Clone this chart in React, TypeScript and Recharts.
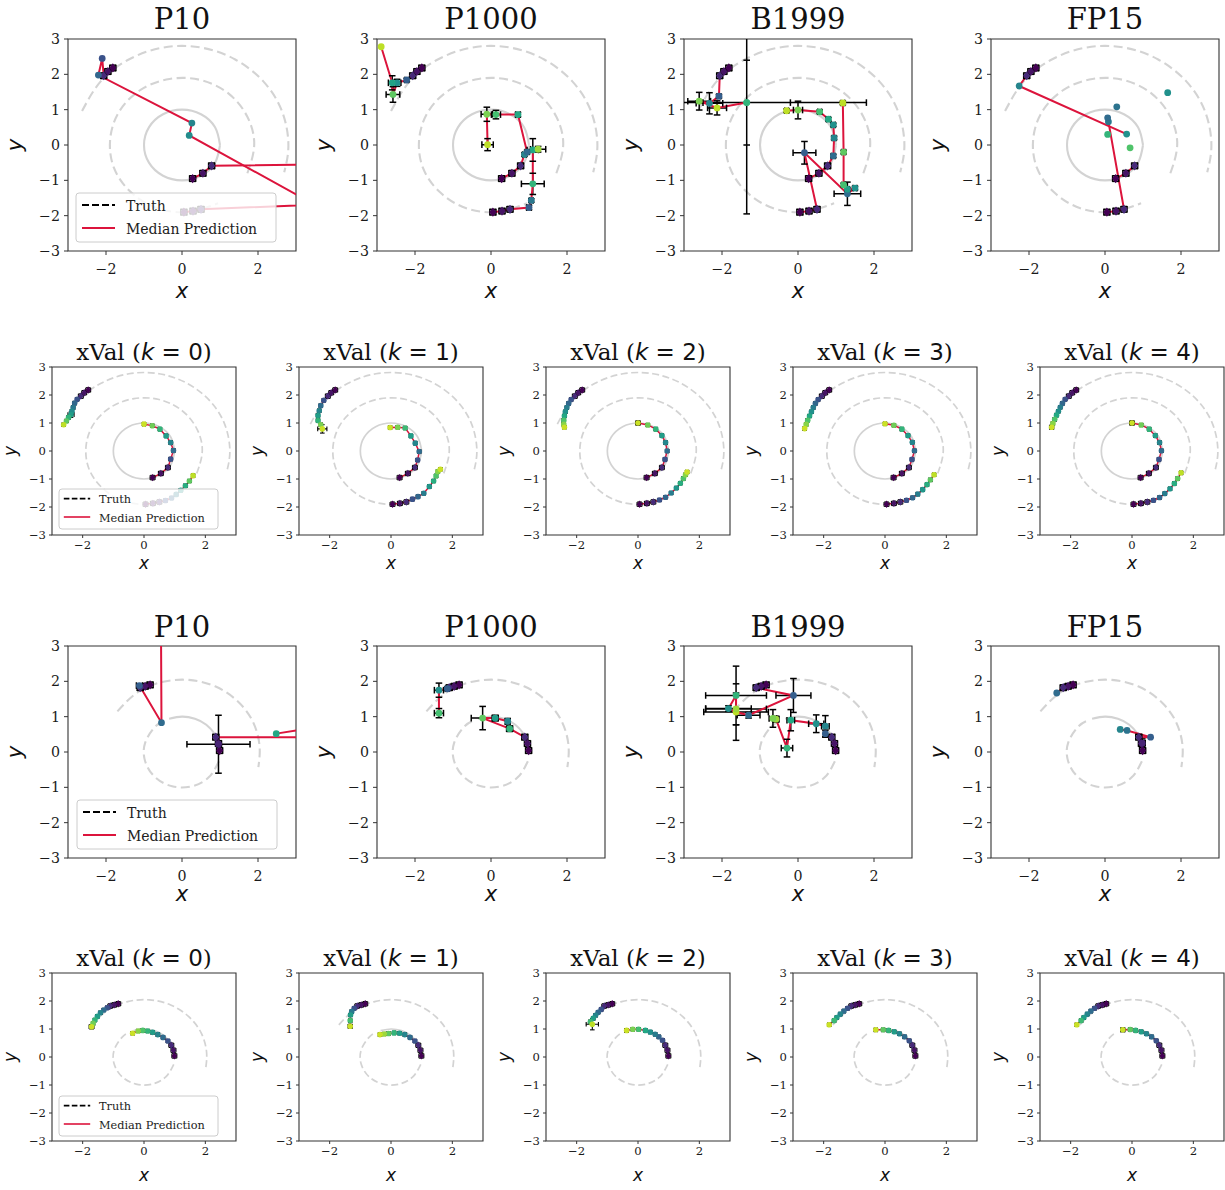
import React from "react";
import { ComposedChart, Line, ReferenceArea, Scatter, XAxis, YAxis } from "recharts";

// rows are [x, y, t (time, drives the colour), ex, ey]
type Row = number[];

const methodTitles = ["P10", "P1000", "B1999", "FP15"];
const foldTitles = [0, 1, 2, 3, 4];
const axisTicks = [-3, -2, -1, 0, 1, 2, 3];
const xTickLabels = [-2, 0, 2];

// ---------- dataset A (rows 1 and 2): truth curves
const truthA_inner = [[1, 0], [0.87, 0.5], [0.5, 0.87], [0, 1], [-0.5, 0.87], [-0.87, 0.5], [-1, 0], [-0.87, -0.5], [-0.5, -0.87], [0, -1], [0.5, -0.87], [0.87, -0.5], [1, 0]];
const truthA_middle = [[1.72, -0.8], [1.9, 0], [1.72, 0.8], [1.22, 1.46], [0.49, 1.84], [-0.33, 1.87], [-1.09, 1.56], [-1.65, 0.95], [-1.89, 0.17], [-1.79, -0.65], [-1.34, -1.34], [-0.65, -1.79], [0.17, -1.89], [0.95, -1.65]];
const truthA_outer = [[-2.63, 0.96], [-2.14, 1.8], [-1.4, 2.42], [-0.49, 2.76], [0.49, 2.76], [1.4, 2.42], [2.14, 1.8], [2.63, 0.96], [2.8, 0], [2.69, -0.77]];

// ---------- dataset B (rows 3 and 4): truth curves
const truthB_outer = [[-1.7, 1.15], [-1.18, 1.68], [-0.53, 1.98], [0.18, 2.04], [0.87, 1.86], [1.45, 1.45], [1.86, 0.87], [2.04, 0.18], [2.01, -0.43]];
const truthB_innerDash = [[0.97, -0.26], [0.71, -0.71], [0.26, -0.97], [-0.26, -0.97], [-0.71, -0.71], [-0.97, -0.26], [-0.97, 0.26], [-0.71, 0.71], [-0.5, 0.87]];
const truthB_innerSolid = [[-0.34, 0.94], [0, 1], [0.34, 0.94], [0.64, 0.77], [0.87, 0.5], [0.94, 0.34]];

// ---------- observed points (same in every panel of a dataset)
const obsA_outer = [[-1.82, 2.18, 0], [-1.95, 2.08, 0.05], [-2.06, 1.96, 0.12]];
const obsA_middle = [[0.05, -1.9, 0], [0.29, -1.87, 0.05], [0.5, -1.82, 0.12]];
const obsA_inner = [[0.28, -0.95, 0], [0.55, -0.8, 0.05], [0.78, -0.59, 0.12]];
const obsB_outer = [[-0.84, 1.9, 0], [-0.97, 1.86, 0.05], [-1.1, 1.82, 0.12]];
const obsB_inner = [[0.99, 0.04, 0], [0.96, 0.24, 0.05], [0.89, 0.42, 0.12]];

// ---------- row 1 predictions
const p10A_outer = [[-2.1, 2.45, 0.25], [-2.2, 1.98, 0.33], [0.26, 0.62, 0.45], [0.19, 0.27, 0.48], [6, -3.18, 0.6]];
const p10A_middle = [[8, -1.49, 0.3]];
const p10A_inner = [[8, -0.5, 0.3]];

const p1000A_outer = [[-2.22, 1.84, 0.3, 0.05, 0.05], [-2.47, 1.76, 0.5, 0.1, 0.1], [-2.58, 1.43, 0.75, 0.18, 0.22], [-2.6, 1.76, 0.58, 0.1, 0.2], [-2.89, 2.78, 0.9]];
const p1000A_middle = [[1.0, -1.77, 0.3, 0.06, 0.06], [1.06, -1.57, 0.4, 0.05, 0.05], [1.1, -1.1, 0.65, 0.3, 0.3], [1.1, -0.14, 0.6, 0.15, 0.32], [1.24, -0.12, 0.85, 0.2, 0.08]];
const p1000A_inner = [[0.88, -0.27, 0.45, 0.05, 0.05], [0.95, -0.2, 0.35, 0.05, 0.05], [0.71, 0.86, 0.6, 0.06, 0.06], [0.13, 0.86, 0.7, 0.12, 0.12], [-0.11, 0.87, 0.8, 0.15, 0.2], [-0.09, 0.01, 0.9, 0.15, 0.17]];

const b1999A_outer = [[-2.08, 1.38, 0.3, 0.05, 0.05], [-2.33, 1.18, 0.45, 0.35, 0.3], [-2.6, 1.24, 0.8, 0.3, 0.25], [-2.13, 1.05, 0.9, 0.25, 0.2], [-1.35, 1.2, 0.65, 3.15, 3.15]];
const b1999A_middle = [[0.17, -0.22, 0.3, 0.3, 0.32], [1.3, -1.38, 0.35, 0.35, 0.33], [1.5, -1.22, 0.5, 0.05, 0.05], [1.3, -1.25, 0.55, 0.05, 0.05], [1.2, -1.13, 0.7, 0.05, 0.05], [1.2, -0.2, 0.75, 0.05, 0.05], [1.18, 1.19, 0.9, 0.05, 0.05]];
const b1999A_inner = [[0.93, -0.31, 0.35, 0.05, 0.05], [0.95, 0.2, 0.45, 0.05, 0.05], [0.93, 0.57, 0.5, 0.05, 0.05], [0.8, 0.73, 0.6, 0.05, 0.05], [0.57, 0.94, 0.7, 0.05, 0.05], [0.0, 0.99, 0.8, 0.12, 0.25], [-0.3, 0.97, 0.9, 0.05, 0.05]];
const b1999A_loose = [[-1.35, 1.2, 0.65, 1.15, 1.2]];

const fp15A_outer = [[-2.26, 1.67, 0.45], [0.57, 0.31, 0.5]];
const fp15A_middle = [[0.09, 0.66, 0.4], [0.07, 0.77, 0.35]];
const fp15A_loose = [[0.31, 1.08, 0.38], [0.07, 0.3, 0.65], [0.66, -0.08, 0.72], [1.65, 1.48, 0.5]];

// ---------- row 2 predictions (cross validation folds)
const xvA0_outer = [[-2.18, 1.85, 0.25], [-2.26, 1.71, 0.33], [-2.31, 1.55, 0.4], [-2.35, 1.42, 0.48], [-2.38, 1.3, 0.55, 0.1, 0.1], [-2.46, 1.2, 0.65], [-2.53, 1.07, 0.75], [-2.62, 0.94, 0.9]];
const xvA0_middle = [[0.7, -1.77, 0.25], [0.9, -1.68, 0.33], [1.05, -1.55, 0.42], [1.2, -1.4, 0.52], [1.35, -1.24, 0.62], [1.48, -1.07, 0.75], [1.6, -0.88, 0.9]];
const xvA0_inner = [[0.87, -0.29, 0.25], [0.96, 0.02, 0.35], [0.87, 0.3, 0.45], [0.72, 0.54, 0.55], [0.52, 0.78, 0.65], [0.27, 0.9, 0.78], [0, 0.96, 0.92]];

const xvA1_outer = [[-2.19, 1.81, 0.25], [-2.29, 1.62, 0.35], [-2.34, 1.44, 0.45], [-2.38, 1.27, 0.55], [-2.38, 1.09, 0.65], [-2.29, 0.94, 0.8], [-2.24, 0.79, 0.92, 0.15, 0.15]];
const xvA1_middle = [[0.7, -1.72, 0.25], [0.88, -1.63, 0.33], [1.07, -1.51, 0.42], [1.25, -1.27, 0.52], [1.39, -1.07, 0.62], [1.47, -0.89, 0.72], [1.53, -0.73, 0.82], [1.61, -0.65, 0.92]];
const xvA1_inner = [[0.87, -0.32, 0.25], [0.92, -0.02, 0.35], [0.79, 0.28, 0.45], [0.65, 0.54, 0.55], [0.46, 0.82, 0.68], [0.22, 0.85, 0.8], [-0.03, 0.84, 0.92]];

const xvA2_outer = [[-2.18, 1.84, 0.25], [-2.26, 1.7, 0.33], [-2.32, 1.55, 0.42], [-2.37, 1.4, 0.5], [-2.4, 1.25, 0.6], [-2.42, 1.1, 0.72], [-2.42, 0.95, 0.82], [-2.4, 0.85, 0.92]];
const xvA2_middle = [[0.7, -1.75, 0.25], [0.9, -1.65, 0.33], [1.08, -1.5, 0.42], [1.25, -1.32, 0.52], [1.38, -1.15, 0.62], [1.48, -0.98, 0.72], [1.55, -0.85, 0.82], [1.6, -0.75, 0.92]];
const xvA2_inner = [[0.88, -0.3, 0.25], [0.95, 0.0, 0.35], [0.9, 0.3, 0.45], [0.78, 0.55, 0.55], [0.58, 0.78, 0.65], [0.32, 0.93, 0.78], [0.0, 1.0, 0.92, 0.08, 0.08]];

const xvA3_outer = [[-2.18, 1.84, 0.25], [-2.27, 1.7, 0.33], [-2.34, 1.55, 0.42], [-2.4, 1.4, 0.5], [-2.46, 1.25, 0.6], [-2.52, 1.1, 0.72], [-2.57, 0.95, 0.82], [-2.62, 0.8, 0.92]];
const xvA3_middle = [[0.7, -1.76, 0.25], [0.9, -1.67, 0.33], [1.07, -1.54, 0.42], [1.23, -1.38, 0.52], [1.37, -1.2, 0.62], [1.48, -1.03, 0.75], [1.6, -0.85, 0.9]];
const xvA3_inner = [[0.88, -0.3, 0.25], [0.96, 0.01, 0.35], [0.89, 0.31, 0.45], [0.75, 0.55, 0.55], [0.55, 0.78, 0.65], [0.29, 0.92, 0.78], [0, 0.97, 0.92]];

const xvA4_outer = [[-2.18, 1.85, 0.25], [-2.27, 1.7, 0.33], [-2.34, 1.56, 0.42], [-2.4, 1.42, 0.5], [-2.46, 1.28, 0.6], [-2.52, 1.13, 0.72], [-2.58, 0.98, 0.82], [-2.62, 0.85, 0.92, 0.07, 0.07]];
const xvA4_middle = [[0.7, -1.76, 0.25], [0.9, -1.66, 0.33], [1.07, -1.52, 0.42], [1.24, -1.35, 0.52], [1.38, -1.16, 0.62], [1.49, -0.98, 0.75], [1.6, -0.78, 0.9]];
const xvA4_inner = [[0.88, -0.3, 0.25], [0.96, 0.01, 0.35], [0.9, 0.3, 0.45], [0.76, 0.55, 0.55], [0.56, 0.78, 0.65], [0.3, 0.93, 0.78], [0, 1.0, 0.92, 0.08, 0.08]];

// ---------- row 3 predictions
const p10B_outer = [[-1.12, 1.88, 0.3, 0.08, 0.05], [-0.54, 0.83, 0.35], [-0.56, 5, 0.5]];
const p10B_inner = [[9, 0.42, 0.3]];
const p10B_inner2 = [[2.48, 0.52, 0.6], [6, 1.1, 0.7]];
const p10B_loose = [[0.96, 0.22, 0.1, 0.83, 0.82]];

const p1000B_outer = [[-1.15, 1.79, 0.3, 0.05, 0.05], [-1.37, 1.75, 0.5, 0.12, 0.2], [-1.37, 1.1, 0.7, 0.12, 0.13]];
const p1000B_inner = [[0.49, 0.66, 0.65, 0.08, 0.08], [-0.22, 0.96, 0.75, 0.3, 0.33], [0.11, 0.96, 0.55, 0.08, 0.08], [0.44, 0.87, 0.45, 0.06, 0.08]];

const b1999B_outer = [[-0.12, 1.6, 0.3, 0.46, 0.48], [-1.3, 1.04, 0.35, 0.3, 0.08], [-1.63, 1.13, 0.9, 0.85, 0.8], [-1.83, 1.23, 0.5, 0.6, 0.08], [-1.63, 1.6, 0.65, 0.8, 0.83], [-1.63, 1.22, 0.85, 0.8, 0.45]];
const b1999B_inner = [[0.72, 0.52, 0.3, 0.05, 0.1], [0.72, 0.73, 0.45, 0.1, 0.3], [0.48, 0.8, 0.5, 0.2, 0.25], [-0.19, 0.9, 0.6, 0.1, 0.3], [-0.29, 0.11, 0.65, 0.15, 0.25], [-0.58, 0.93, 0.85, 0.08, 0.08], [-0.66, 0.95, 0.8, 0.1, 0.25]];

const fp15B_outer = [[-1.27, 1.67, 0.35]];
const fp15B_inner = [[1.2, 0.42, 0.3], [0.58, 0.61, 0.38], [0.4, 0.64, 0.45]];
const fp15B_loose = [[0.98, 0.25, 0.1, 0.08, 0.12]];

// ---------- row 4 predictions
const xvB0_outer = [[-1.2, 1.76, 0.25], [-1.31, 1.68, 0.35], [-1.42, 1.58, 0.45], [-1.52, 1.45, 0.55], [-1.6, 1.32, 0.65], [-1.66, 1.2, 0.78], [-1.71, 1.08, 0.92, 0.08, 0.08]];
const xvB0_inner = [[0.78, 0.57, 0.25], [0.62, 0.7, 0.35], [0.45, 0.8, 0.45], [0.28, 0.88, 0.55], [0.12, 0.93, 0.65], [-0.04, 0.95, 0.72], [-0.19, 0.93, 0.82], [-0.37, 0.85, 0.92]];

const xvB1_outer = [[-1.2, 1.74, 0.25], [-1.28, 1.62, 0.4], [-1.32, 1.5, 0.55], [-1.33, 1.3, 0.7], [-1.33, 1.1, 0.92, 0.07, 0.07]];
const xvB1_inner = [[0.78, 0.57, 0.25], [0.62, 0.7, 0.35], [0.45, 0.8, 0.45], [0.28, 0.85, 0.55], [0.1, 0.86, 0.65], [-0.08, 0.84, 0.75], [-0.22, 0.82, 0.85], [-0.36, 0.8, 0.92]];

const xvB2_outer = [[-1.2, 1.7, 0.25], [-1.3, 1.6, 0.35], [-1.38, 1.49, 0.45], [-1.46, 1.38, 0.55], [-1.55, 1.26, 0.68], [-1.49, 1.17, 0.9, 0.2, 0.2]];
const xvB2_inner = [[0.8, 0.6, 0.25], [0.68, 0.72, 0.33], [0.56, 0.81, 0.42], [0.4, 0.89, 0.5], [0.24, 0.95, 0.6], [0.02, 0.99, 0.7], [-0.17, 0.99, 0.8], [-0.37, 0.95, 0.92, 0.06, 0.06]];

const xvB3_outer = [[-1.22, 1.74, 0.25], [-1.34, 1.64, 0.35], [-1.46, 1.53, 0.45], [-1.57, 1.41, 0.55], [-1.66, 1.3, 0.68], [-1.82, 1.15, 0.92]];
const xvB3_inner = [[0.79, 0.58, 0.25], [0.64, 0.72, 0.35], [0.47, 0.83, 0.45], [0.3, 0.9, 0.55], [0.12, 0.95, 0.65], [-0.06, 0.97, 0.75], [-0.3, 0.97, 0.92]];

const xvB4_outer = [[-1.22, 1.74, 0.25], [-1.34, 1.64, 0.35], [-1.46, 1.53, 0.45], [-1.57, 1.41, 0.55], [-1.66, 1.3, 0.68], [-1.8, 1.15, 0.92]];
const xvB4_inner = [[0.79, 0.58, 0.25], [0.64, 0.72, 0.35], [0.47, 0.83, 0.45], [0.3, 0.9, 0.55], [0.12, 0.95, 0.65], [-0.06, 0.98, 0.75], [-0.3, 0.97, 0.92, 0.07, 0.07]];

// ---------- styling helpers
const viridis = ["#440154", "#482475", "#414487", "#355f8d", "#2a788e", "#21918c", "#22a884", "#44bf70", "#7ad151", "#bddf26", "#fde725"];

function colourAt(t: number) {
  const v = Math.max(0, Math.min(1, t)) * 10;
  const i = Math.min(9, Math.floor(v));
  const f = v - i;
  const a = viridis[i];
  const b = viridis[i + 1];
  const ch = (s: string, k: number) => parseInt(s.slice(1 + 2 * k, 3 + 2 * k), 16);
  const mix = (k: number) => Math.round(ch(a, k) + (ch(b, k) - ch(a, k)) * f);
  return `rgb(${mix(0)},${mix(1)},${mix(2)})`;
}

type Pt = { x: number; y: number; t: number; ex: number; ey: number; obs: boolean };

const toPts = (rows: Row[], obs: boolean, err: number): Pt[] =>
  rows.map((r) => ({ x: r[0], y: r[1], t: r[2], ex: r[3] ?? err, ey: r[4] ?? err, obs }));

const xy = (rows: number[][]) => rows.map((r) => ({ x: r[0], y: r[1] }));
const inside = (d: { x: number; y: number }) => d.x >= -3 && d.x <= 3 && d.y >= -3 && d.y <= 3;

type Truth = { dashed: number[][][]; solid: number[][][] };
const truthA: Truth = { dashed: [truthA_middle, truthA_outer], solid: [truthA_inner] };
const truthB: Truth = { dashed: [truthB_outer, truthB_innerDash], solid: [truthB_innerSolid] };

type PanelSpec = {
  left: number;
  top: number;
  small: boolean;
  truth: Truth;
  tracks: Pt[][];
  loose: Pt[];
};

const fmt = (v: number) => (v < 0 ? `\u2212${-v}` : `${v}`);

const makeTick = (fs: number, horizontal: boolean) => (props: any) => {
  const { x, y, payload, textAnchor } = props;
  return (
    <text x={x} y={y} dy={horizontal ? "0.71em" : "0.36em"} textAnchor={textAnchor} fontFamily="DejaVu Serif" fontSize={fs} fill="#1a1a1a">
      {fmt(payload.value)}
    </text>
  );
};

function Panel({ spec }: { spec: PanelSpec }) {
  const s = spec.small;
  const w = s ? 184 : 228;
  const h = s ? 168 : 212;
  const yw = s ? 34 : 44;
  const xh = s ? 24 : 32;
  const pad = 12;
  const fs = s ? 11.6 : 14.2;
  const all = [...spec.tracks.flat(), ...spec.loose];
  const ebw = s ? 1.1 : 1.5;
  const cap = s ? 2.3 : 3.3;

  // error bars as broken polylines so that they are clipped at the frame
  const errSegs: { x: number; y: number | null }[] = [];
  const xCaps: { x: number; y: number }[] = [];
  const yCaps: { x: number; y: number }[] = [];
  all.forEach((d) => {
    if (d.ex > 0) {
      errSegs.push({ x: d.x - d.ex, y: d.y }, { x: d.x + d.ex, y: d.y }, { x: d.x + d.ex, y: null });
      xCaps.push({ x: d.x - d.ex, y: d.y }, { x: d.x + d.ex, y: d.y });
    }
    if (d.ey > 0) {
      errSegs.push({ x: d.x, y: d.y - d.ey }, { x: d.x, y: d.y + d.ey }, { x: d.x, y: null });
      yCaps.push({ x: d.x, y: d.y - d.ey }, { x: d.x, y: d.y + d.ey });
    }
  });

  const vCap = (props: any) => <line x1={props.cx} x2={props.cx} y1={props.cy - cap} y2={props.cy + cap} stroke="#000" strokeWidth={ebw} />;
  const hCap = (props: any) => <line x1={props.cx - cap} x2={props.cx + cap} y1={props.cy} y2={props.cy} stroke="#000" strokeWidth={ebw} />;

  const marker = (props: any) => {
    const { cx, cy, payload } = props;
    if (cx == null || cy == null) return <g />;
    const c = colourAt(payload.t);
    if (payload.obs) {
      const a = s ? 2.9 : 3.6;
      const b = s ? 3.7 : 4.6;
      return <polygon points={`${cx},${cy - b} ${cx + a},${cy} ${cx},${cy + b} ${cx - a},${cy}`} fill={c} />;
    }
    return <circle cx={cx} cy={cy} r={s ? 2.8 : 3.4} fill={c} />;
  };

  return (
    <div style={{ position: "absolute", left: spec.left - yw, top: spec.top - pad }}>
      <ComposedChart width={yw + w + pad} height={pad + h + xh} margin={{ top: pad, right: pad, bottom: 0, left: 0 }}>
        <XAxis
          type="number"
          dataKey="x"
          domain={[-3, 3]}
          ticks={xTickLabels}
          interval={0}
          allowDataOverflow
          axisLine={false}
          tickLine={{ stroke: "#333" }}
          tickSize={s ? 3 : 4}
          tickMargin={s ? 3 : 9}
          height={xh}
          tick={makeTick(fs, true)}
        />
        <YAxis
          type="number"
          dataKey="y"
          domain={[-3, 3]}
          ticks={axisTicks}
          interval={0}
          allowDataOverflow
          axisLine={false}
          tickLine={{ stroke: "#333" }}
          tickSize={s ? 3 : 4}
          tickMargin={s ? 3 : 4}
          width={yw}
          tick={makeTick(fs, false)}
        />
        {spec.truth.solid.map((c, i) => (
          <Line key={`s${i}`} data={xy(c)} dataKey="y" type="natural" stroke="#d3d3d3" strokeWidth={s ? 1.7 : 2.1} dot={false} isAnimationActive={false} />
        ))}
        {spec.truth.dashed.map((c, i) => (
          <Line key={`d${i}`} data={xy(c)} dataKey="y" type="natural" stroke="#d3d3d3" strokeWidth={s ? 1.7 : 2.1} strokeDasharray={s ? "7 3.5" : "9 4.5"} dot={false} isAnimationActive={false} />
        ))}
        <Line data={errSegs} dataKey="y" type="linear" stroke="#000" strokeWidth={ebw} dot={false} connectNulls={false} isAnimationActive={false} />
        <Scatter data={xCaps.filter(inside)} shape={vCap} isAnimationActive={false} />
        <Scatter data={yCaps.filter(inside)} shape={hCap} isAnimationActive={false} />
        {spec.tracks.map((tr, i) => (
          <Line key={`t${i}`} data={tr} dataKey="y" type="linear" stroke="crimson" strokeWidth={s ? 1.5 : 2} dot={false} isAnimationActive={false} />
        ))}
        <Scatter data={all.filter(inside)} shape={marker} isAnimationActive={false} />
        <ReferenceArea x1={-3} x2={3} y1={-3} y2={3} fill="none" stroke="#333" strokeWidth={1.1} fillOpacity={0} />
      </ComposedChart>
    </div>
  );
}

// ---------- layout
const bigLefts = [68, 377, 684, 991];
const smallLefts = [52, 299, 546, 793, 1040];
const rowTops = [39, 367, 646, 973];
const titleBase = [29, 360, 637, 966];
const xLabelBase = [298, 569, 901, 1181];

const A = (rows: Row[]) => toPts(rows, false, 0);
const Ae = (rows: Row[]) => toPts(rows, false, 0.05);
const O = (rows: Row[]) => toPts(rows, true, 0.08);

const row1: PanelSpec[] = [
  { tracks: [[...O(obsA_outer), ...A(p10A_outer)], [...O(obsA_middle), ...A(p10A_middle)], [...O(obsA_inner), ...A(p10A_inner)]], loose: [] },
  { tracks: [[...O(obsA_outer), ...A(p1000A_outer)], [...O(obsA_middle), ...A(p1000A_middle)], [...O(obsA_inner), ...A(p1000A_inner)]], loose: [] },
  { tracks: [[...O(obsA_outer), ...A(b1999A_outer)], [...O(obsA_middle), ...A(b1999A_middle)], [...O(obsA_inner), ...A(b1999A_inner)]], loose: A(b1999A_loose) },
  { tracks: [[...O(obsA_outer), ...A(fp15A_outer)], [...O(obsA_middle), ...A(fp15A_middle)], [...O(obsA_inner)]], loose: A(fp15A_loose) },
].map((p, i) => ({ ...p, left: bigLefts[i], top: rowTops[0], small: false, truth: truthA }));

const foldsA = [
  [xvA0_outer, xvA0_middle, xvA0_inner],
  [xvA1_outer, xvA1_middle, xvA1_inner],
  [xvA2_outer, xvA2_middle, xvA2_inner],
  [xvA3_outer, xvA3_middle, xvA3_inner],
  [xvA4_outer, xvA4_middle, xvA4_inner],
];
const row2: PanelSpec[] = foldsA.map((f, i) => ({
  left: smallLefts[i],
  top: rowTops[1],
  small: true,
  truth: truthA,
  tracks: [[...O(obsA_outer), ...Ae(f[0])], [...O(obsA_middle), ...Ae(f[1])], [...O(obsA_inner), ...Ae(f[2])]],
  loose: [],
}));

const row3: PanelSpec[] = [
  { tracks: [[...O(obsB_outer), ...A(p10B_outer)], [...O(obsB_inner), ...A(p10B_inner)], A(p10B_inner2)], loose: A(p10B_loose) },
  { tracks: [[...O(obsB_outer), ...A(p1000B_outer)], [...O(obsB_inner), ...A(p1000B_inner)]], loose: [] },
  { tracks: [[...O(obsB_outer), ...A(b1999B_outer)], [...O(obsB_inner), ...A(b1999B_inner)]], loose: [] },
  { tracks: [[...O(obsB_outer), ...A(fp15B_outer)], [...O(obsB_inner), ...A(fp15B_inner)]], loose: A(fp15B_loose) },
].map((p, i) => ({ ...p, left: bigLefts[i], top: rowTops[2], small: false, truth: truthB }));

const foldsB = [
  [xvB0_outer, xvB0_inner],
  [xvB1_outer, xvB1_inner],
  [xvB2_outer, xvB2_inner],
  [xvB3_outer, xvB3_inner],
  [xvB4_outer, xvB4_inner],
];
const row4: PanelSpec[] = foldsB.map((f, i) => ({
  left: smallLefts[i],
  top: rowTops[3],
  small: true,
  truth: truthB,
  tracks: [[...O(obsB_outer), ...Ae(f[0])], [...O(obsB_inner), ...Ae(f[1])]],
  loose: [],
}));

function Legend({ x, y, small }: { x: number; y: number; small: boolean }) {
  const k = small ? 0.8 : 1;
  const fs = small ? 11.3 : 14;
  return (
    <g>
      <rect x={x} y={y} width={small ? 159 : 200} height={small ? 40 : 49} rx={3} fill="rgba(255,255,255,0.8)" stroke="#cccccc" strokeWidth={1} />
      <line x1={x + 6 * k} x2={x + 39 * k} y1={y + 12 * k} y2={y + 12 * k} stroke="#000" strokeWidth={2 * k} strokeDasharray={`${7 * k} ${3 * k}`} />
      <line x1={x + 6 * k} x2={x + 39 * k} y1={y + 35 * k} y2={y + 35 * k} stroke="crimson" strokeWidth={2 * k} />
      <text x={x + 50 * k} y={y + 17.5 * k} fontFamily="DejaVu Serif" fontSize={fs} fill="#222">Truth</text>
      <text x={x + 50 * k} y={y + 41 * k} fontFamily="DejaVu Serif" fontSize={fs} fill="#222">Median Prediction</text>
    </g>
  );
}

export default function App() {
  const bigW = 228;
  const smallW = 184;
  const bigH = 212;
  const smallH = 168;
  return (
    <div style={{ position: "absolute", left: 0, top: 0, width: 1225, height: 1190, background: "#fff", overflow: "hidden" }}>
      {[...row1, ...row2, ...row3, ...row4].map((spec, i) => (
        <Panel key={i} spec={spec} />
      ))}
      <svg width={1225} height={1190} style={{ position: "absolute", left: 0, top: 0, pointerEvents: "none" }}>
        {[0, 2].map((r) =>
          methodTitles.map((t, i) => (
            <g key={`b${r}${i}`}>
              <text x={bigLefts[i] + bigW / 2} y={titleBase[r]} textAnchor="middle" fontFamily="DejaVu Serif" fontSize={29} fill="#111">{t}</text>
              <text x={bigLefts[i] + bigW / 2} y={xLabelBase[r]} textAnchor="middle" fontFamily="DejaVu Sans" fontStyle="italic" fontSize={21} fill="#111">x</text>
              <text transform={`translate(${bigLefts[i] - 46},${rowTops[r] + bigH / 2}) rotate(-90)`} textAnchor="middle" fontFamily="DejaVu Sans" fontStyle="italic" fontSize={21} fill="#111">y</text>
            </g>
          ))
        )}
        {[1, 3].map((r) =>
          foldTitles.map((k, i) => (
            <g key={`s${r}${i}`}>
              <text x={smallLefts[i] + smallW / 2} y={titleBase[r]} textAnchor="middle" fontSize={23} fill="#111">
                <tspan fontFamily="DejaVu Serif">xVal (</tspan>
                <tspan fontFamily="DejaVu Sans" fontStyle="italic">k</tspan>
                <tspan fontFamily="DejaVu Sans">{` = ${k}`}</tspan>
                <tspan fontFamily="DejaVu Serif">)</tspan>
              </text>
              <text x={smallLefts[i] + smallW / 2} y={xLabelBase[r]} textAnchor="middle" fontFamily="DejaVu Sans" fontStyle="italic" fontSize={17} fill="#111">x</text>
              <text transform={`translate(${smallLefts[i] - 36},${rowTops[r] + smallH / 2}) rotate(-90)`} textAnchor="middle" fontFamily="DejaVu Sans" fontStyle="italic" fontSize={17} fill="#111">y</text>
            </g>
          ))
        )}
        <Legend x={bigLefts[0] + 8} y={rowTops[0] + 154} small={false} />
        <Legend x={smallLefts[0] + 7} y={rowTops[1] + 122} small />
        <Legend x={bigLefts[0] + 9} y={rowTops[2] + 154} small={false} />
        <Legend x={smallLefts[0] + 7} y={rowTops[3] + 123} small />
      </svg>
    </div>
  );
}
